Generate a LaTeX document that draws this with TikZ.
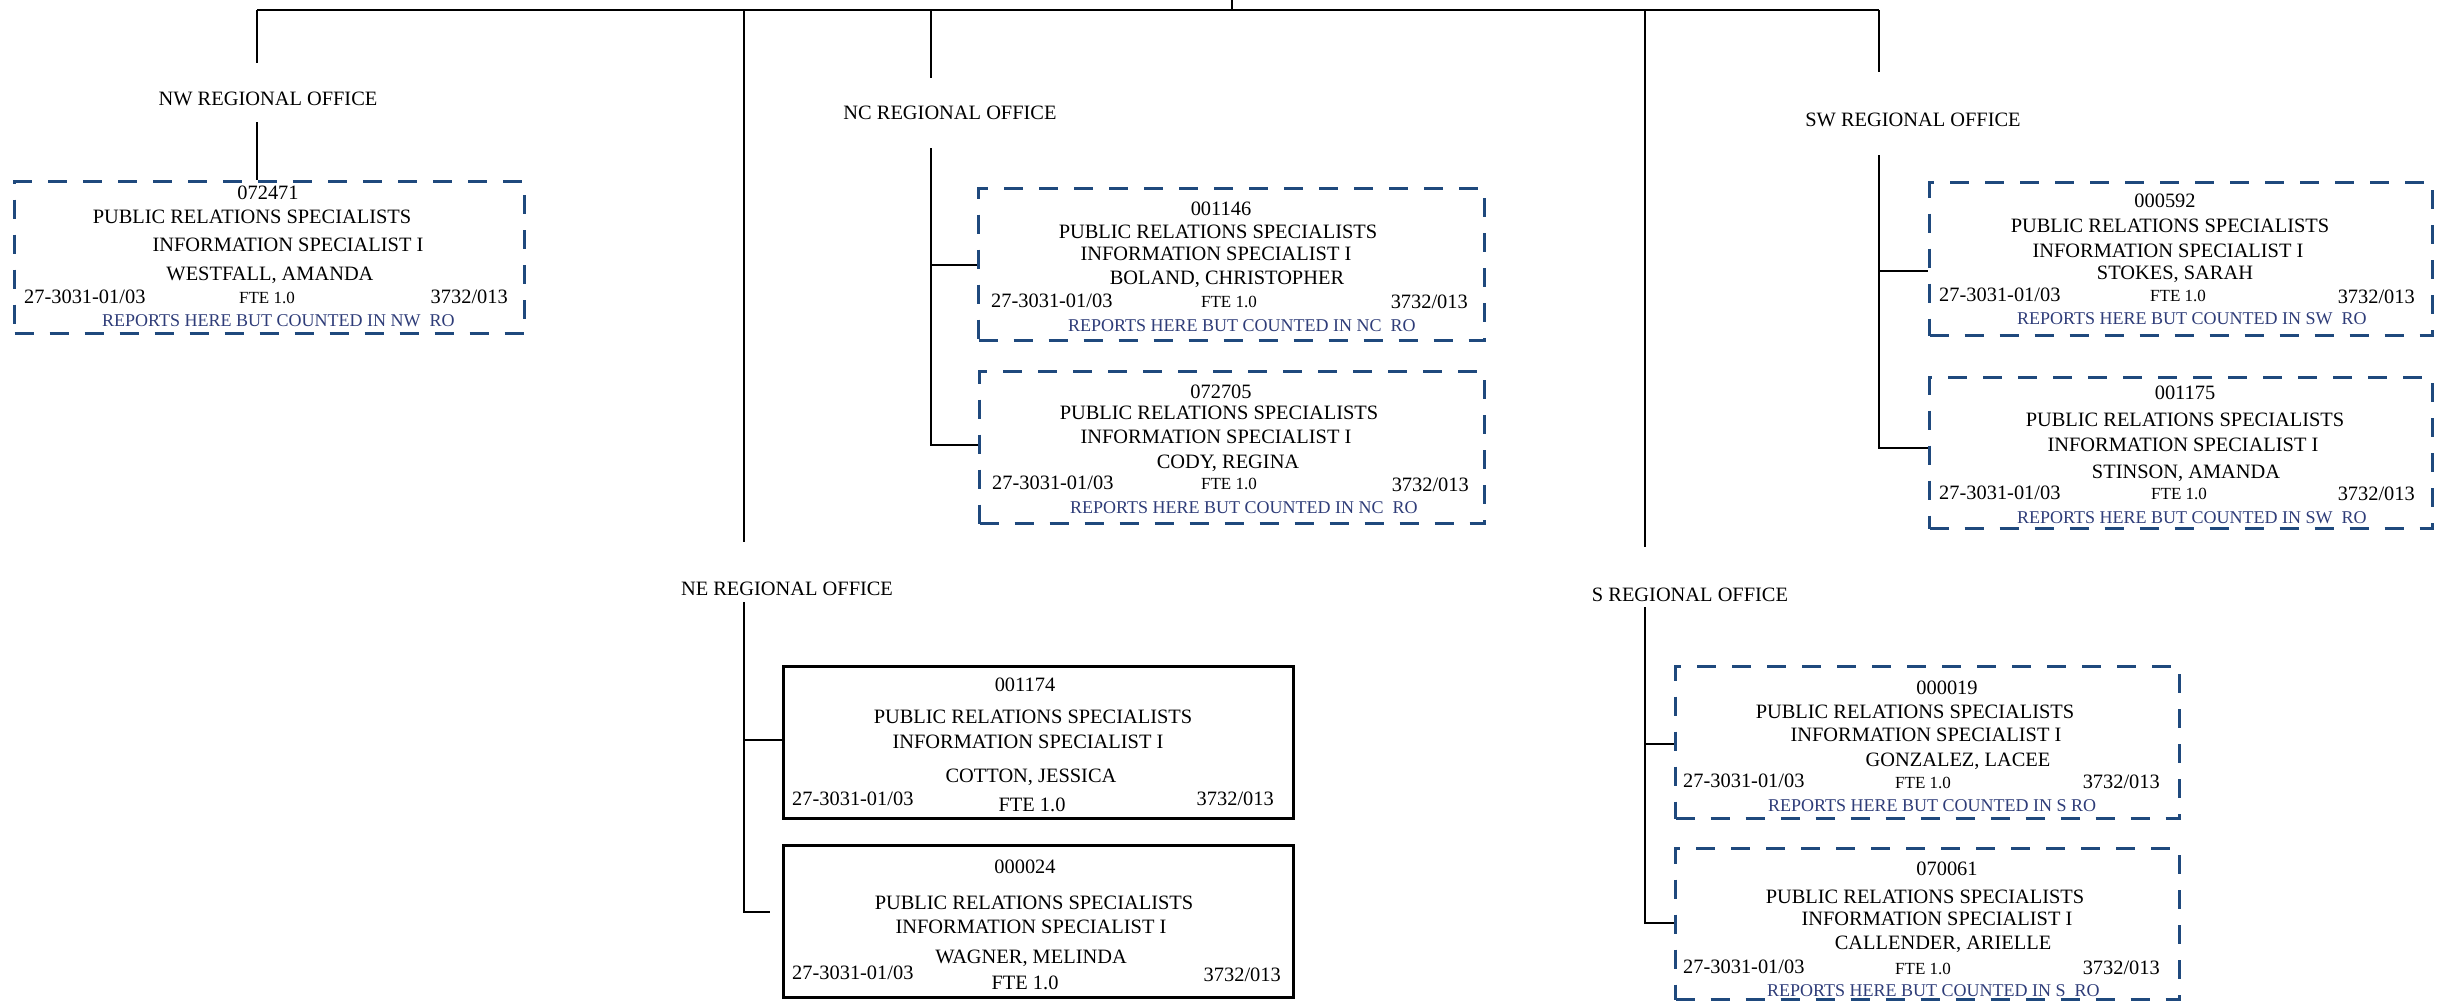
\documentclass[tikz,border=0pt]{standalone}
\usepackage{fontspec}
\setmainfont{Liberation Serif}
\definecolor{boxblue}{RGB}{31,73,125}
\definecolor{notecol}{RGB}{46,60,120}
\tikzset{
  txt/.style={inner sep=0pt, font=\fontsize{20.4}{24}\selectfont},
  tc/.style={txt, anchor=base, yshift=-6.75pt},
  tl/.style={txt, anchor=base west, yshift=-6.75pt},
  tr/.style={txt, anchor=base east, yshift=-6.75pt},
  fte/.style={inner sep=0pt, font=\fontsize{17}{20}\selectfont, anchor=base, yshift=-5.6pt},
  note/.style={inner sep=0pt, font=\fontsize{18}{21}\selectfont, text=notecol, anchor=base west, yshift=-6pt},
  card/.style={inner sep=0pt, anchor=north west, minimum width=505pt, minimum height=152pt},
  dbox/.style={card, draw=boxblue, line width=3pt, dash pattern=on 19pt off 16pt},
  sbox/.style={card, draw=black, line width=3pt},
  link/.style={draw=black, line width=2pt},
}
\begin{document}
\begin{tikzpicture}[x=1pt, y=-1pt]
\useasboundingbox (0,0) rectangle (2449,1001);

% ---------- boxes ----------
\node[dbox, minimum width=510pt] (nw)  at (13,180)  {};
\node[dbox, minimum width=506pt] (nc1) at (977,187) {};
\node[dbox, minimum width=505pt] (nc2) at (978,370) {};
\node[dbox, minimum width=503pt, minimum height=153pt] (sw1) at (1928,181) {};
\node[dbox, minimum width=503pt, minimum height=151pt] (sw2) at (1928,376) {};
\node[sbox, minimum width=510pt] (ne1) at (782,665) {};
\node[sbox, minimum width=510pt] (ne2) at (782,844) {};
\node[dbox, minimum width=504pt] (s1) at (1674,665) {};
\node[dbox, minimum width=504pt, minimum height=151pt] (s2) at (1674,847) {};

% ---------- office labels ----------
\node[tc] (nw-lab) at (268,99)  {NW REGIONAL OFFICE};
\node[tc] (nc-lab) at (950,113) {NC REGIONAL OFFICE};
\node[tc] (ne-lab) at (787,589) {NE REGIONAL OFFICE};
\node[tc] (s-lab)  at (1690,595) {S REGIONAL OFFICE};
\node[tc] (sw-lab) at (1913,120) {SW REGIONAL OFFICE};

% ---------- connector points ----------
\coordinate (root)   at (1232,0);
\coordinate (root-j) at (1232,10);
\coordinate (nw-j) at (257,10);  \coordinate (nw-a) at (257,63);  \coordinate (nw-b) at (257,122);
\coordinate (nc-j) at (931,10);  \coordinate (nc-a) at (931,78);  \coordinate (nc-b) at (931,148);
\coordinate (nc-k1) at (931,265); \coordinate (nc-k2) at (931,445);
\coordinate (ne-j) at (744,10);  \coordinate (ne-a) at (744,542); \coordinate (ne-b) at (744,602);
\coordinate (ne-k1) at (744,740); \coordinate (ne-k2) at (744,912); \coordinate (ne-e2) at (770,912);
\coordinate (s-j) at (1645,10);  \coordinate (s-a) at (1645,547); \coordinate (s-b) at (1645,607);
\coordinate (s-k1) at (1645,744); \coordinate (s-k2) at (1645,923);
\coordinate (sw-j) at (1879,10); \coordinate (sw-a) at (1879,72); \coordinate (sw-b) at (1879,155);
\coordinate (sw-k1) at (1879,271); \coordinate (sw-k2) at (1879,448);

% ---------- connectors ----------
\draw[link, line width=2.5pt] (nw-j) -- (sw-j);
\draw[link] (root) -- (root-j);
\draw[link] (nw-j) -- (nw-a);
\draw[link] (nw-b) -- (nw-b |- nw.north);
\draw[link] (nc-j) -- (nc-a);
\draw[link] (nc-b) -- (nc-k2) -- (nc-k2 -| nc2.west);
\draw[link] (nc-k1) -- (nc-k1 -| nc1.west);
\draw[link] (ne-j) -- (ne-a);
\draw[link] (ne-b) -- (ne-k2) -- (ne-e2);
\draw[link] (ne-k1) -- (ne-k1 -| ne1.west);
\draw[link] (s-j) -- (s-a);
\draw[link] (s-b) -- (s-k2) -- (s-k2 -| s2.west);
\draw[link] (s-k1) -- (s-k1 -| s1.west);
\draw[link] (sw-j) -- (sw-a);
\draw[link] (sw-b) -- (sw-k2) -- (sw-k2 -| sw2.west);
\draw[link] (sw-k1) -- (sw-k1 -| sw1.west);

% ---------- NW card ----------
\node[tc] (nw-id)   at (268,193) {072471};
\node[tc] (nw-pos)  at (252,217) {PUBLIC RELATIONS SPECIALISTS};
\node[tc] (nw-tit)  at (288,245) {INFORMATION SPECIALIST I};
\node[tc] (nw-name) at (270,274) {WESTFALL, AMANDA};
\node[tl] (nw-code) at (24,297)  {27-3031-01/03};
\node[fte] (nw-fte) at (267,298) {FTE 1.0};
\node[tr] (nw-org)  at (508,297) {3732/013};
\node[note] (nw-note) at (102,320) {REPORTS HERE BUT COUNTED IN NW~~RO};

% ---------- NC cards ----------
\node[tc] (nc1-id)   at (1221,209) {001146};
\node[tc] (nc1-pos)  at (1218,232) {PUBLIC RELATIONS SPECIALISTS};
\node[tc] (nc1-tit)  at (1216,254) {INFORMATION SPECIALIST I};
\node[tc] (nc1-name) at (1227,278) {BOLAND, CHRISTOPHER};
\node[tl] (nc1-code) at (991,301)  {27-3031-01/03};
\node[fte] (nc1-fte) at (1229,302) {FTE 1.0};
\node[tr] (nc1-org)  at (1468,302) {3732/013};
\node[note] (nc1-note) at (1068,325) {REPORTS HERE BUT COUNTED IN NC~~RO};

\node[tc] (nc2-id)   at (1221,392) {072705};
\node[tc] (nc2-pos)  at (1219,413) {PUBLIC RELATIONS SPECIALISTS};
\node[tc] (nc2-tit)  at (1216,437) {INFORMATION SPECIALIST I};
\node[tc] (nc2-name) at (1228,462) {CODY, REGINA};
\node[tl] (nc2-code) at (992,483)  {27-3031-01/03};
\node[fte] (nc2-fte) at (1229,484) {FTE 1.0};
\node[tr] (nc2-org)  at (1469,485) {3732/013};
\node[note] (nc2-note) at (1070,507) {REPORTS HERE BUT COUNTED IN NC~~RO};

% ---------- SW cards ----------
\node[tc] (sw1-id)   at (2165,201) {000592};
\node[tc] (sw1-pos)  at (2170,226) {PUBLIC RELATIONS SPECIALISTS};
\node[tc] (sw1-tit)  at (2168,251) {INFORMATION SPECIALIST I};
\node[tc] (sw1-name) at (2175,273) {STOKES, SARAH};
\node[tl] (sw1-code) at (1939,295) {27-3031-01/03};
\node[fte] (sw1-fte) at (2178,296) {FTE 1.0};
\node[tr] (sw1-org)  at (2415,297) {3732/013};
\node[note] (sw1-note) at (2017,318) {REPORTS HERE BUT COUNTED IN SW~~RO};

\node[tc] (sw2-id)   at (2185,393) {001175};
\node[tc] (sw2-pos)  at (2185,420) {PUBLIC RELATIONS SPECIALISTS};
\node[tc] (sw2-tit)  at (2183,445) {INFORMATION SPECIALIST I};
\node[tc] (sw2-name) at (2186,472) {STINSON, AMANDA};
\node[tl] (sw2-code) at (1939,493) {27-3031-01/03};
\node[fte] (sw2-fte) at (2179,494) {FTE 1.0};
\node[tr] (sw2-org)  at (2415,494) {3732/013};
\node[note] (sw2-note) at (2017,517) {REPORTS HERE BUT COUNTED IN SW~~RO};

% ---------- NE cards ----------
\node[tc] (ne1-id)   at (1025,685) {001174};
\node[tc] (ne1-pos)  at (1033,717) {PUBLIC RELATIONS SPECIALISTS};
\node[tc] (ne1-tit)  at (1028,742) {INFORMATION SPECIALIST I};
\node[tc] (ne1-name) at (1031,776) {COTTON, JESSICA};
\node[tl] (ne1-code) at (792,799)  {27-3031-01/03};
\node[tc] (ne1-fte)  at (1032,805) {FTE 1.0};
\node[tr] (ne1-org)  at (1274,799) {3732/013};

\node[tc] (ne2-id)   at (1025,867) {000024};
\node[tc] (ne2-pos)  at (1034,903) {PUBLIC RELATIONS SPECIALISTS};
\node[tc] (ne2-tit)  at (1031,927) {INFORMATION SPECIALIST I};
\node[tc] (ne2-name) at (1031,957) {WAGNER, MELINDA};
\node[tl] (ne2-code) at (792,973)  {27-3031-01/03};
\node[tc] (ne2-fte)  at (1025,983) {FTE 1.0};
\node[tr] (ne2-org)  at (1281,975) {3732/013};

% ---------- S cards ----------
\node[tc] (s1-id)   at (1947,688) {000019};
\node[tc] (s1-pos)  at (1915,712) {PUBLIC RELATIONS SPECIALISTS};
\node[tc] (s1-tit)  at (1926,735) {INFORMATION SPECIALIST I};
\node[tc] (s1-name) at (1958,760) {GONZALEZ, LACEE};
\node[tl] (s1-code) at (1683,781) {27-3031-01/03};
\node[fte] (s1-fte) at (1923,783) {FTE 1.0};
\node[tr] (s1-org)  at (2160,782) {3732/013};
\node[note] (s1-note) at (1768,805) {REPORTS HERE BUT COUNTED IN S RO};

\node[tc] (s2-id)   at (1947,869) {070061};
\node[tc] (s2-pos)  at (1925,897) {PUBLIC RELATIONS SPECIALISTS};
\node[tc] (s2-tit)  at (1937,919) {INFORMATION SPECIALIST I};
\node[tc] (s2-name) at (1943,943) {CALLENDER, ARIELLE};
\node[tl] (s2-code) at (1683,967) {27-3031-01/03};
\node[fte] (s2-fte) at (1923,969) {FTE 1.0};
\node[tr] (s2-org)  at (2160,968) {3732/013};
\node[note] (s2-note) at (1767,990) {REPORTS HERE BUT COUNTED IN S~~RO};
\end{tikzpicture}
\end{document}
